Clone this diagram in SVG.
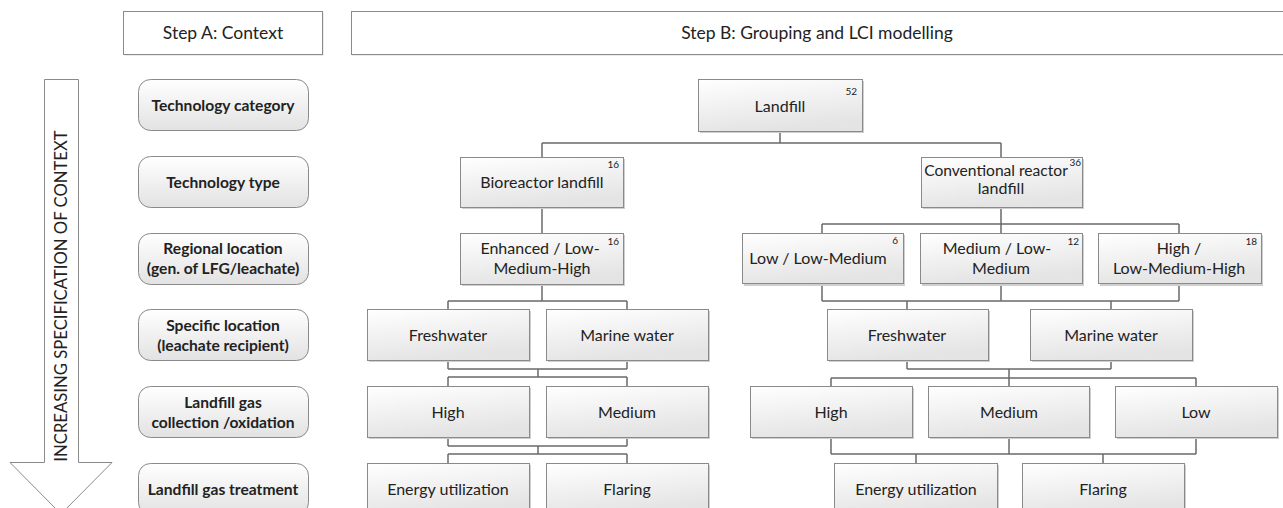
<svg xmlns="http://www.w3.org/2000/svg" width="1283" height="508" viewBox="0 0 1283 508">
<defs>
<linearGradient id="g" x1="0" y1="0" x2="0.3" y2="1">
<stop offset="0" stop-color="#ffffff"/>
<stop offset="1" stop-color="#e4e4e4"/>
</linearGradient>
<linearGradient id="gr" x1="0" y1="0" x2="0" y2="1">
<stop offset="0" stop-color="#ffffff"/>
<stop offset="1" stop-color="#e2e2e2"/>
</linearGradient>
</defs>
<style>
text{font-family:Lato,"Liberation Sans",sans-serif;fill:#222;}
.t{font-size:16px;text-anchor:middle;}
.b{font-size:15.6px;font-weight:bold;text-anchor:middle;}
.n{font-size:10px;text-anchor:end;}
.h{font-size:17.5px;text-anchor:middle;}
.box{fill:url(#g);stroke:#8a8a8a;stroke-width:1;}
.sh{fill:#cfcfcf;}
.lb{fill:url(#gr);stroke:#8a8a8a;stroke-width:1;}
.hd{fill:#ffffff;stroke:#8a8a8a;stroke-width:1;}
.c{fill:none;stroke:#6a6a6a;stroke-width:1.5;}
</style>

<g id="headerA"><rect x="124.5" y="12.5" width="199" height="43" fill="#d8d8d8"/><rect class="hd" x="123.5" y="11.5" width="199" height="43"/><text class="h" x="223" y="39">Step A: Context</text></g>
<g id="headerB"><rect x="352.5" y="12.5" width="940" height="43" fill="#d8d8d8"/><rect class="hd" x="351.5" y="11.5" width="940" height="43"/><text class="h" x="817" y="39">Step B: Grouping and LCI modelling</text></g>

<g id="arrow">
<path d="M44.5,79.5 H78.5 V462.5 H112 L61,514 L10,462.5 H44.5 Z" fill="#ffffff" stroke="#8a8a8a" stroke-width="1"/>
<text class="h" transform="translate(67,296) rotate(-90)" style="font-size:16.7px" fill="#333">INCREASING SPECIFICATION OF CONTEXT</text>
</g>

<g id="ctx1"><rect class="lb" x="138.5" y="79.5" width="170" height="51" rx="12"/><text class="b" x="223" y="111">Technology category</text></g>
<g id="ctx2"><rect class="lb" x="138.5" y="156.5" width="170" height="51" rx="12"/><text class="b" x="223" y="188">Technology type</text></g>
<g id="ctx3"><rect class="lb" x="138.5" y="233.5" width="170" height="51" rx="12"/><text class="b" x="223" y="254">Regional location</text><text class="b" x="223" y="274">(gen. of LFG/leachate)</text></g>
<g id="ctx4"><rect class="lb" x="138.5" y="309.5" width="170" height="51" rx="12"/><text class="b" x="223" y="330.5">Specific location</text><text class="b" x="223" y="350.5">(leachate recipient)</text></g>
<g id="ctx5"><rect class="lb" x="138.5" y="386.5" width="170" height="51" rx="12"/><text class="b" x="223" y="407.5">Landfill gas</text><text class="b" x="223" y="427.5">collection /oxidation</text></g>
<g id="ctx6"><rect class="lb" x="138.5" y="463.5" width="170" height="51" rx="12"/><text class="b" x="223" y="494.5">Landfill gas treatment</text></g>

<g id="connectors" class="c">
<path class="c" d="M780,131 V143 M542,143 H1001 M542,143 V157 M1001,143 V157"/>
<path class="c" d="M542,207 V233"/>
<path class="c" d="M1001,207 V224 M822,224 H1179 M822,224 V233 M1001,224 V233 M1179,224 V233"/>
<path class="c" d="M542,284 V301 M448,301 H627 M448,301 V309 M627,301 V309"/>
<path class="c" d="M822,284 V301 M1001,284 V301 M1179,284 V301 M822,301 H1179 M907,301 V309 M1111,301 V309"/>
<path class="c" d="M448,360 V369 M627,360 V369 M448,369 H627 M538,369 V377 M448,377 H627 M448,377 V386 M627,377 V386"/>
<path class="c" d="M907,360 V369 M1111,360 V369 M907,369 H1111 M1009,369 V378 M831,378 H1196 M831,378 V386 M1009,378 V386 M1196,378 V386"/>
<path class="c" d="M448,437 V446 M627,437 V446 M448,446 H627 M538,446 V454 M448,454 H627 M448,454 V463 M627,454 V463"/>
<path class="c" d="M831,437 V454 M1009,437 V454 M1196,437 V454 M831,454 H1196 M916,454 V463 M1103,454 V463"/>
</g>

<g id="landfill"><rect class="sh" x="700" y="81" width="164" height="52"/><rect class="box" x="698.5" y="79.5" width="164" height="52"/><text class="t" x="780" y="111.5">Landfill</text><text class="n" x="857" y="95">52</text></g>
<g id="bioreactor"><rect class="sh" x="462" y="159" width="163" height="50"/><rect class="box" x="460.5" y="157.5" width="163" height="50"/><text class="t" x="542" y="188">Bioreactor landfill</text><text class="n" x="619" y="168">16</text></g>
<g id="conventional"><rect class="sh" x="923" y="159" width="161" height="50"/><rect class="box" x="921.5" y="157.5" width="161" height="50"/><text class="t" x="996" y="175.5" style="font-size:15.6px">Conventional reactor</text><text class="t" x="1001" y="193.5">landfill</text><text class="n" x="1081" y="166">36</text></g>

<g id="enhanced"><rect class="sh" x="462" y="235" width="163" height="51"/><rect class="box" x="460.5" y="233.5" width="163" height="51"/><text class="t" x="540" y="253.5">Enhanced / Low-</text><text class="t" x="542" y="273.5">Medium-High</text><text class="n" x="619" y="245">16</text></g>
<g id="lowlm"><rect class="sh" x="744" y="235" width="161" height="51"/><rect class="box" x="742.5" y="233.5" width="161" height="50"/><text class="t" x="818" y="263.5">Low / Low-Medium</text><text class="n" x="898" y="244">6</text></g>
<g id="medlm"><rect class="sh" x="922" y="235" width="162" height="51"/><rect class="box" x="920.5" y="233.5" width="162" height="50"/><text class="t" x="997" y="253.5">Medium / Low-</text><text class="t" x="1001" y="273.5">Medium</text><text class="n" x="1079" y="245">12</text></g>
<g id="highlmh"><rect class="sh" x="1100" y="235" width="163" height="51"/><rect class="box" x="1098.5" y="233.5" width="163" height="50"/><text class="t" x="1179" y="253.5">High /</text><text class="t" x="1179" y="273.5">Low-Medium-High</text><text class="n" x="1257" y="245">18</text></g>

<g id="fresh1"><rect class="sh" x="369" y="311" width="162" height="51"/><rect class="box" x="367.5" y="309.5" width="162" height="51"/><text class="t" x="448" y="340.5">Freshwater</text></g>
<g id="marine1"><rect class="sh" x="548" y="311" width="162" height="51"/><rect class="box" x="546.5" y="309.5" width="162" height="51"/><text class="t" x="627" y="340.5">Marine water</text></g>
<g id="fresh2"><rect class="sh" x="829" y="311" width="161" height="51"/><rect class="box" x="827.5" y="309.5" width="161" height="51"/><text class="t" x="907" y="340.5">Freshwater</text></g>
<g id="marine2"><rect class="sh" x="1032" y="311" width="162" height="51"/><rect class="box" x="1030.5" y="309.5" width="162" height="51"/><text class="t" x="1111" y="340.5">Marine water</text></g>

<g id="high1"><rect class="sh" x="369" y="388" width="162" height="51"/><rect class="box" x="367.5" y="386.5" width="162" height="51"/><text class="t" x="448" y="417.5">High</text></g>
<g id="medium1"><rect class="sh" x="548" y="388" width="162" height="51"/><rect class="box" x="546.5" y="386.5" width="162" height="51"/><text class="t" x="627" y="417.5">Medium</text></g>
<g id="high2"><rect class="sh" x="752" y="388" width="162" height="51"/><rect class="box" x="750.5" y="386.5" width="162" height="51"/><text class="t" x="831" y="417.5">High</text></g>
<g id="medium2"><rect class="sh" x="930" y="388" width="161" height="51"/><rect class="box" x="928.5" y="386.5" width="161" height="51"/><text class="t" x="1009" y="417.5">Medium</text></g>
<g id="low2"><rect class="sh" x="1117" y="388" width="162" height="51"/><rect class="box" x="1115.5" y="386.5" width="162" height="51"/><text class="t" x="1196" y="417.5">Low</text></g>

<g id="energy1"><rect class="sh" x="369" y="465" width="162" height="51"/><rect class="box" x="367.5" y="463.5" width="162" height="51"/><text class="t" x="448" y="494.5">Energy utilization</text></g>
<g id="flaring1"><rect class="sh" x="548" y="465" width="162" height="51"/><rect class="box" x="546.5" y="463.5" width="162" height="51"/><text class="t" x="627" y="494.5">Flaring</text></g>
<g id="energy2"><rect class="sh" x="836" y="465" width="163" height="51"/><rect class="box" x="834.5" y="463.5" width="163" height="51"/><text class="t" x="916" y="494.5">Energy utilization</text></g>
<g id="flaring2"><rect class="sh" x="1024" y="465" width="162" height="51"/><rect class="box" x="1022.5" y="463.5" width="162" height="51"/><text class="t" x="1103" y="494.5">Flaring</text></g>
</svg>
